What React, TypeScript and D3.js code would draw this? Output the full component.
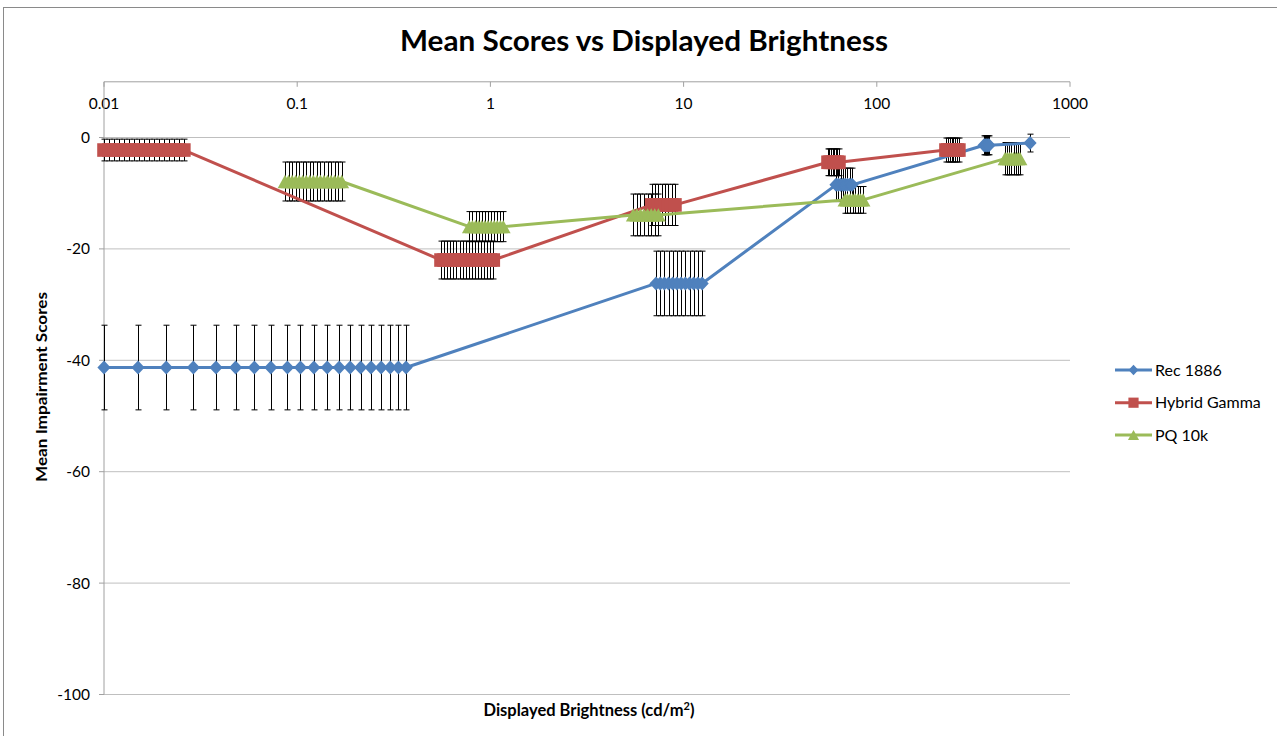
import React from "react";
import * as d3 from "d3";

// ---------- DATA ----------
const xTicks = [0.01, 0.1, 1, 10, 100, 1000];
const xTickLabels = ["0.01", "0.1", "1", "10", "100", "1000"];
const yTicks = [0, -20, -40, -60, -80, -100];
const yTickLabels = ["0", "-20", "-40", "-60", "-80", "-100"];

const seriesNames = ["Rec 1886", "Hybrid Gamma", "PQ 10k"];
const seriesColors = ["#4F81BD", "#C0504D", "#9BBB59"];

// Rec 1886: groups of brightness values, each group has a mean score and error
const recGroupX = [
  [0.01, 0.015, 0.021, 0.029, 0.038, 0.048, 0.06, 0.073, 0.089, 0.104, 0.122, 0.143, 0.165, 0.188, 0.213, 0.241, 0.272, 0.303, 0.334, 0.366],
  [7.2, 7.57, 7.95, 8.36, 8.79, 9.24, 9.71, 10.21, 10.73, 11.28, 11.86, 12.47],
  [61.5, 63.2, 64.9, 66.7, 68.6, 70.5, 72.5, 74.5],
  [359, 363, 368, 372, 377, 381],
  [621],
];
const recGroupMean = [-41.3, -26.2, -8.5, -1.4, -1.0];
const recGroupErr = [7.6, 5.8, 3.0, 1.7, 1.6];

// Hybrid Gamma
const hgGroupX = [
  [0.01, 0.0106, 0.0113, 0.012, 0.0127, 0.0135, 0.0143, 0.0152, 0.0161, 0.0171, 0.0182, 0.0193, 0.0204, 0.0217, 0.023, 0.0244, 0.0259],
  [0.555, 0.576, 0.597, 0.62, 0.643, 0.667, 0.692, 0.718, 0.745, 0.773, 0.802, 0.832, 0.863, 0.895, 0.929, 0.964, 1.0, 1.035],
  [6.84, 7.12, 7.4, 7.7, 8.01, 8.33, 8.67, 9.02],
  [55.9, 56.9, 58.0, 59.1, 60.2, 61.3, 62.5, 63.7],
  [228, 233, 238.3, 243.6, 249, 254.5, 260.2, 266],
];
const hgGroupMean = [-2.25, -22.0, -12.1, -4.45, -2.25];
const hgGroupErr = [1.95, 3.4, 3.7, 2.4, 2.15];

// PQ 10k
const pqGroupX = [
  [0.0865, 0.0902, 0.0941, 0.0982, 0.1024, 0.1068, 0.1114, 0.1162, 0.1212, 0.1265, 0.1319, 0.1376, 0.1435, 0.1497, 0.1562, 0.1629, 0.17],
  [0.778, 0.807, 0.838, 0.869, 0.902, 0.936, 0.971, 1.008, 1.046, 1.085, 1.126, 1.166],
  [5.49, 5.73, 5.98, 6.24, 6.51, 6.8, 7.09, 7.4],
  [68.4, 70.5, 72.8, 75.1, 77.4, 79.8, 82.3, 84.9],
  [461, 473, 485, 497, 510, 523, 537, 551],
];
const pqGroupMean = [-7.9, -16.0, -13.9, -11.2, -3.8];
const pqGroupErr = [3.5, 2.7, 3.75, 2.4, 2.9];

type Pt = { x: number; y: number; e: number };

function flatten(gx: number[][], gm: number[], ge: number[]): Pt[] {
  const out: Pt[] = [];
  gx.forEach((xs, i) => xs.forEach((x) => out.push({ x, y: gm[i], e: ge[i] })));
  return out;
}

const allSeries: Pt[][] = [
  flatten(recGroupX, recGroupMean, recGroupErr),
  flatten(hgGroupX, hgGroupMean, hgGroupErr),
  flatten(pqGroupX, pqGroupMean, pqGroupErr),
];

// ---------- LAYOUT ----------
const W = 1277;
const H = 736;
const plotLeft = 104;
const plotRight = 1070;
const plotTop = 81.8;
const plotBottom = 694.5;
const FONT = "Lato, 'Open Sans', 'DejaVu Sans', sans-serif";

const xScale = d3.scaleLog().domain([0.01, 1000]).range([plotLeft, plotRight]);
const yScale = d3.scaleLinear().domain([-100, 10]).range([plotBottom, plotTop]);

function markerPath(kind: number, cx: number, cy: number): string {
  if (kind === 0) {
    const hw = 6.6, hh = 7;
    return `M${cx},${cy - hh}L${cx + hw},${cy}L${cx},${cy + hh}L${cx - hw},${cy}Z`;
  }
  if (kind === 1) {
    const h = 6.8;
    return `M${cx - h},${cy - h}L${cx + h},${cy - h}L${cx + h},${cy + h}L${cx - h},${cy + h}Z`;
  }
  const hb = 7.4, hh = 6.7;
  return `M${cx},${cy - hh}L${cx + hb},${cy + hh}L${cx - hb},${cy + hh}Z`;
}

export default function App() {
  const line = d3
    .line<Pt>()
    .x((d) => xScale(d.x))
    .y((d) => yScale(d.y));

  const legendY = [370, 402.7, 435];

  return (
    <svg
      width={W}
      height={H}
      style={{ position: "absolute", left: 0, top: 0, background: "#fff" }}
      fontFamily={FONT}
    >
      <rect x={0} y={0} width={W} height={H} fill="#fff" />
      {/* chart border */}
      <rect x={3.5} y={7.5} width={W + 20} height={H + 20} fill="none" stroke="#8a8a8a" strokeWidth={1} />

      {/* title */}
      <text x={644} y={51} textAnchor="middle" fontSize={28} fontWeight="bold" fill="#000" textLength={488} lengthAdjust="spacingAndGlyphs">
        Mean Scores vs Displayed Brightness
      </text>

      {/* gridlines */}
      {yTicks.map((t) => (
        <line key={"g" + t} x1={plotLeft} x2={plotRight} y1={yScale(t)} y2={yScale(t)} stroke="#BFBFBF" strokeWidth={1} />
      ))}

      {/* x axis at top */}
      <line x1={plotLeft} x2={plotRight} y1={plotTop} y2={plotTop} stroke="#A0A0A0" strokeWidth={1} />
      {xTicks.map((t) => (
        <line key={"xt" + t} x1={xScale(t)} x2={xScale(t)} y1={plotTop} y2={plotTop + 5} stroke="#A0A0A0" strokeWidth={1} />
      ))}
      {xTicks.map((t, i) => (
        <text key={"xl" + t} x={xScale(t)} y={109} textAnchor="middle" fontSize={15.5} fill="#000">
          {xTickLabels[i]}
        </text>
      ))}

      {/* y axis */}
      <line x1={plotLeft} x2={plotLeft} y1={plotTop} y2={plotBottom} stroke="#A0A0A0" strokeWidth={1} />
      {yTicks.map((t) => (
        <line key={"yt" + t} x1={plotLeft - 5} x2={plotLeft} y1={yScale(t)} y2={yScale(t)} stroke="#A0A0A0" strokeWidth={1} />
      ))}
      {yTicks.map((t, i) => (
        <text key={"yl" + t} x={90} y={yScale(t) + 5.5} textAnchor="end" fontSize={15.5} fill="#000">
          {yTickLabels[i]}
        </text>
      ))}

      {/* axis titles */}
      <text x={589} y={716} textAnchor="middle" fontSize={16.5} fontWeight="bold" fill="#000">
        Displayed Brightness (cd/m
        <tspan fontSize={11} dy={-6}>2</tspan>
        <tspan dy={6}>)</tspan>
      </text>
      <text
        transform={`translate(47,387) rotate(-90)`}
        textAnchor="middle"
        fontSize={14.5}
        fontWeight="bold"
        fill="#000"
        textLength={190}
        lengthAdjust="spacingAndGlyphs"
      >
        Mean Impairment Scores
      </text>

      {/* error bars */}
      {allSeries.map((pts, si) => (
        <g key={"eb" + si} stroke="#000" strokeWidth={1}>
          {pts.map((p, i) => {
            const cx = Math.round(xScale(p.x)) + 0.5;
            const y1 = yScale(p.y + p.e);
            const y2 = yScale(p.y - p.e);
            return (
              <g key={i}>
                <line x1={cx} x2={cx} y1={y1} y2={y2} />
                <line x1={cx - 3} x2={cx + 3} y1={y1} y2={y1} />
                <line x1={cx - 3} x2={cx + 3} y1={y2} y2={y2} />
              </g>
            );
          })}
        </g>
      ))}

      {/* lines */}
      {allSeries.map((pts, si) => (
        <path key={"ln" + si} d={line(pts) || ""} fill="none" stroke={seriesColors[si]} strokeWidth={3} strokeLinejoin="round" />
      ))}

      {/* markers */}
      {allSeries.map((pts, si) => (
        <g key={"mk" + si} fill={seriesColors[si]}>
          {pts.map((p, i) => (
            <path key={i} d={markerPath(si, xScale(p.x), yScale(p.y))} />
          ))}
        </g>
      ))}

      {/* legend */}
      {seriesNames.map((n, i) => (
        <g key={"lg" + i}>
          <line x1={1115} x2={1152} y1={legendY[i]} y2={legendY[i]} stroke={seriesColors[i]} strokeWidth={3} />
          <path d={markerPath(i, 1133.5, legendY[i])} fill={seriesColors[i]} transform={`translate(${1133.5 * 0.25},${legendY[i] * 0.25}) scale(0.75)`} />
          <text x={1155} y={legendY[i] + 5.5} fontSize={16} fill="#000">
            {n}
          </text>
        </g>
      ))}
    </svg>
  );
}
